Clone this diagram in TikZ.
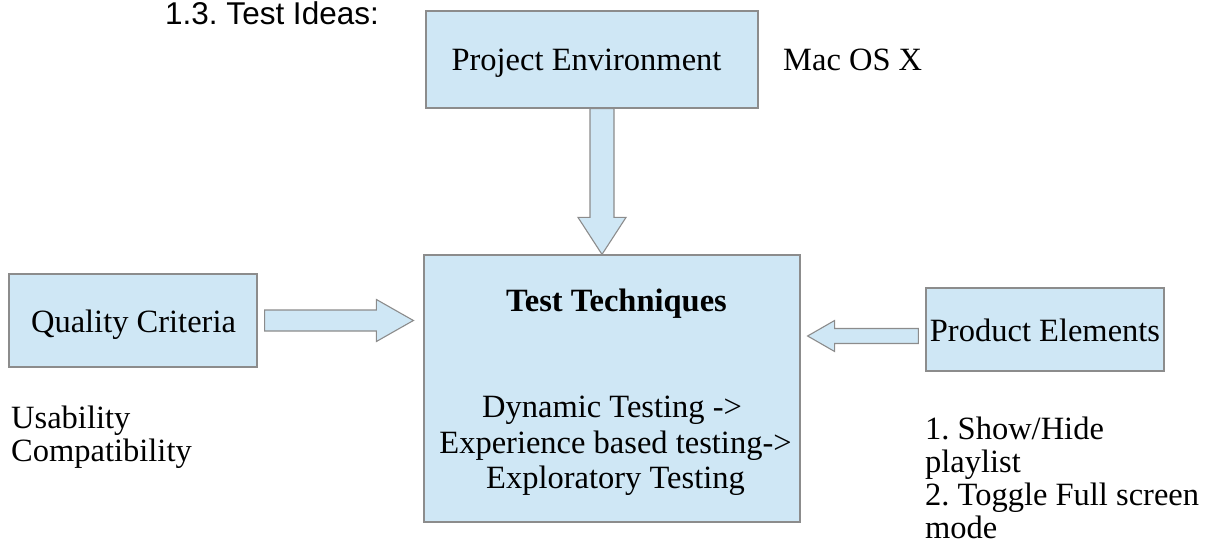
\documentclass[tikz,border=0pt]{standalone}
\usepackage{fontspec}
\setmainfont{Liberation Serif}
\newfontfamily\arialfont{Liberation Sans}
\usetikzlibrary{calc}
\frenchspacing
\definecolor{boxfill}{RGB}{207,231,245}
\definecolor{boxline}{RGB}{140,140,140}
\tikzset{
  box/.style={draw=boxline, fill=boxfill, line width=1.2pt, inner sep=0pt, minimum width=#1},
  arrowshape/.style={draw=boxline, fill=boxfill, line width=1.1pt, line join=miter},
  txt/.style={inner sep=0pt, font=\fontsize{32.5}{36}\selectfont},
  ttl/.style={inner sep=0pt, font=\arialfont\fontsize{31.5}{36}\selectfont},
}
% block arrow: start, end, shaft half width, head half width, head length
\newcommand{\blockarr}[5]{%
  \coordinate (ahb) at ($(#2)!#5!(#1)$);
  \draw[arrowshape] ($(#1)!#3!90:(#2)$) -- ($(ahb)!#3!90:(#2)$) -- ($(ahb)!#4!90:(#2)$)
    -- (#2) -- ($(ahb)!#4!-90:(#2)$) -- ($(ahb)!#3!-90:(#2)$) -- ($(#1)!#3!-90:(#2)$) -- cycle;
}
\begin{document}
\begin{tikzpicture}[x=1pt,y=-1pt]
\useasboundingbox (0,0) rectangle (1205,548);

% boxes
\node[box=332pt, minimum height=97pt] (pe) at (592,59.5) {};
\node[box=376pt, minimum height=267pt] (tt) at (612,388.5) {};
\node[box=248pt, minimum height=93pt] (qc) at (133,320.5) {};
\node[box=238pt, minimum height=83pt] (prod) at (1045,329.5) {};

% title
\node[ttl, anchor=base west] (title) at (165,25) {1.3. Test Ideas:};

% box texts
\node[txt, anchor=base] (pet) at (586.5,71) {Project Environment};
\node[txt, anchor=base west] (mac) at (783,71) {Mac OS X};
\node[txt, anchor=base] (qct) at (133.5,332) {Quality Criteria};
\node[txt, anchor=base] (prt) at (1045,341) {Product Elements};
\node[txt, anchor=base, font=\bfseries\fontsize{32.5}{36}\selectfont] (ttt) at (616.5,311) {Test Techniques};
\node[txt, anchor=base] (tt1) at (612,417) {Dynamic Testing ->};
\node[txt, anchor=base] (tt2) at (615.5,453) {Experience based testing->};
\node[txt, anchor=base] (tt3) at (615.5,488) {Exploratory Testing};

% side texts
\node[txt, anchor=base west] (us) at (11,428) {Usability};
\node[txt, anchor=base west] (co) at (11,461) {Compatibility};
\node[txt, anchor=base west] (p1) at (925,439) {1. Show/Hide};
\node[txt, anchor=base west] (p2) at (925,472) {playlist};
\node[txt, anchor=base west] (p3) at (925,505) {2. Toggle Full screen};
\node[txt, anchor=base west] (p4) at (925,538) {mode};

% block arrows
\coordinate (d1) at ($(pe.south)+(10,0)$);
\coordinate (d2) at ($(tt.north)+(-10,0)$);
\blockarr{d1}{d2}{12pt}{24pt}{37pt}

\coordinate (r1) at ($(qc.east)+(7,0)$);
\coordinate (r2) at ($(tt.west |- qc.east)+(-10,0)$);
\blockarr{r1}{r2}{10.5pt}{21pt}{37pt}

\coordinate (l1) at ($(prod.west)+(-7,6.5)$);
\coordinate (l2) at ($(tt.east |- l1)+(7,0)$);
\blockarr{l1}{l2}{7.5pt}{15.5pt}{27pt}
\end{tikzpicture}
\end{document}
